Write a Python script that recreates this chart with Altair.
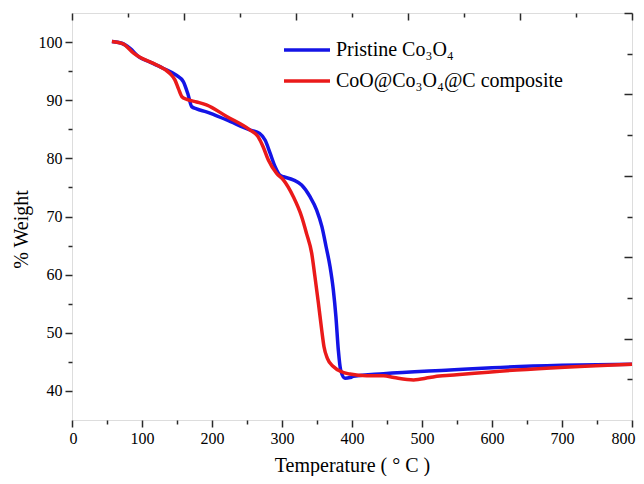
import altair as alt
import pandas as pd

series_names = ["Pristine Co₃O₄", "CoO@Co₃O₄@C composite"]
series_colors = ["#1414e6", "#ea1a1a"]

pristine_temp = [57, 71, 83, 95, 111, 130, 149, 159, 166, 171, 178, 192, 221, 254, 268, 276, 283, 290, 297,
                 302, 316, 328, 340, 349.5, 357, 363, 368.6, 373.3, 377, 380.5, 383.8, 390, 397, 402, 445,
                 540, 600, 700, 800]
pristine_weight = [100.1, 99.8, 98.9, 97.5, 96.6, 95.5, 94.3, 93.2, 90.9, 88.9, 88.5, 88.0, 86.6, 84.9, 84.3,
                   83.1, 80.9, 78.6, 77.1, 76.85, 76.3, 75.4, 73.4, 71.1, 68.25, 64.8, 61.4, 57.4, 52.8, 47.0,
                   43.6, 42.2, 42.3, 42.5, 42.95, 43.6, 44.0, 44.4, 44.6]

composite_temp = [57, 73, 88, 97, 121, 140, 147, 152, 157, 164, 178, 192, 221, 254, 266, 273, 280.5, 292.4,
                  301.9, 316.2, 328, 335, 342.4, 347, 352, 356.7, 360, 364.8, 373.3, 385, 397, 421, 445, 460,
                  488, 511, 525, 540, 635, 800]
composite_weight = [100.1, 99.7, 98.1, 97.4, 96.05, 94.6, 93.5, 92.0, 90.6, 90.15, 89.7, 89.2, 87.2, 84.9,
                    83.7, 82.0, 79.7, 77.4, 76.3, 73.4, 70.0, 67.1, 63.7, 59.7, 55.1, 50.5, 47.6, 45.6, 44.2,
                    43.3, 42.9, 42.6, 42.6, 42.3, 41.9, 42.3, 42.55, 42.7, 43.6, 44.6]

x_major = [0, 100, 200, 300, 400, 500, 600, 700, 800]
x_minor = [50, 150, 250, 350, 450, 550, 650, 750]
y_major = [40, 50, 60, 70, 80, 90, 100]
y_minor = [45, 55, 65, 75, 85, 95]
top_major = [0, 160, 320, 480, 640, 800]
top_minor = [80, 240, 400, 560, 720]
right_major = [49, 63, 77, 91, 105]
right_minor = [42, 56, 70, 84, 98]

df = pd.concat([
    pd.DataFrame({"temp": pristine_temp, "weight": pristine_weight, "series": series_names[0]}),
    pd.DataFrame({"temp": composite_temp, "weight": composite_weight, "series": series_names[1]}),
], ignore_index=True)

FONT = "Liberation Serif"
INK = "#2a2a2a"
xs = alt.Scale(domain=[0, 800], nice=False, zero=False)
ys = alt.Scale(domain=[35, 105], nice=False, zero=False)

lines = alt.Chart(df).mark_line(strokeWidth=3.5, interpolate="monotone").encode(
    x=alt.X("temp:Q", scale=xs, axis=alt.Axis(
        orient="bottom", values=x_major, tickSize=7, tickWidth=1.5, tickColor=INK,
        labelPadding=3, labelFontSize=16, labelFont=FONT, labelColor="black",
        domain=False, grid=False, labelFlush=True, labelFlushOffset=3,
        title="Temperature ( ° C )", titleFont=FONT, titleFontSize=20, titleFontWeight="normal",
        titleColor="black", titleY=51, titleBaseline="alphabetic")),
    y=alt.Y("weight:Q", scale=ys, axis=alt.Axis(
        orient="left", values=y_major, tickSize=7, tickWidth=1.5, tickColor=INK,
        labelPadding=3, labelFontSize=16, labelFont=FONT, labelColor="black",
        domain=False, grid=False, labelFlush=False,
        title="% Weight", titleFont=FONT, titleFontSize=20, titleFontWeight="normal",
        titleColor="black", titleX=-45, titleY=216, titleAlign="center",
        titleBaseline="alphabetic", titleAngle=270)),
    color=alt.Color("series:N", scale=alt.Scale(domain=series_names, range=series_colors),
                    legend=alt.Legend(orient="none", legendX=210, legendY=27, title=None,
                                      symbolType="stroke", symbolSize=2116, symbolStrokeWidth=3.5,
                                      labelFont=FONT, labelFontSize=20, labelColor="black",
                                      labelLimit=0, labelOffset=4, clipHeight=20, rowPadding=11)),
)


def tick_layer(x_axis, y_axis):
    return alt.Chart(df).mark_point(opacity=0, size=1).encode(
        x=alt.X("temp:Q", scale=xs, axis=x_axis),
        y=alt.Y("weight:Q", scale=ys, axis=y_axis),
    )


def ticks_only(orient, values, size, offset=0):
    return alt.Axis(orient=orient, values=values, tickSize=size, tickWidth=1.5, tickColor=INK,
                    offset=offset, labels=False, domain=False, grid=False, title=None)


minor = tick_layer(ticks_only("bottom", x_minor, 4), ticks_only("left", y_minor, 4))
top_right_major = tick_layer(ticks_only("top", top_major, 7, -7), ticks_only("right", right_major, 8, -8))
top_right_minor = tick_layer(ticks_only("top", top_minor, 4, -4), ticks_only("right", right_minor, 5, -5))

chart = alt.layer(lines, minor, top_right_major, top_right_minor).resolve_axis(
    x="independent", y="independent"
).properties(
    width=560, height=407,
    autosize=alt.AutoSizeParams(type="none"),
    padding={"left": 64, "top": 5, "right": 4, "bottom": 56},
).configure_view(stroke=INK, strokeWidth=1.5).configure(background="white")

chart.save("out.html", embed_options={"renderer": "svg", "actions": False})
